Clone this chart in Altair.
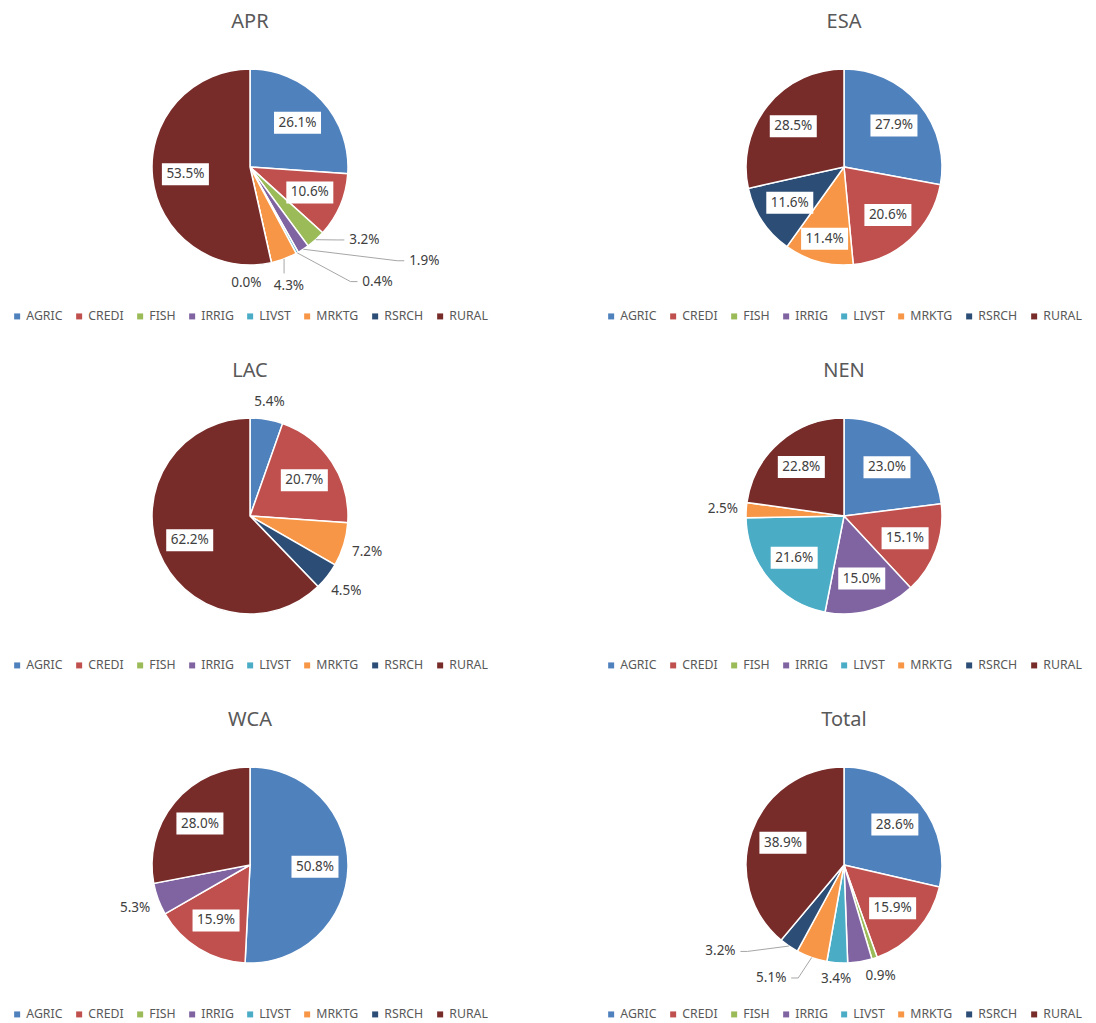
import math
import altair as alt
import pandas as pd

# ---------------- data ----------------
CATEGORIES = ["AGRIC", "CREDI", "FISH", "IRRIG", "LIVST", "MRKTG", "RSRCH", "RURAL"]
COLORS = ["#4F81BD", "#C0504D", "#9BBB59", "#8064A2", "#4BACC6", "#F79646", "#2C4D75", "#772C2A"]
REGIONS = ["APR", "ESA", "LAC", "NEN", "WCA", "Total"]

APR = [26.1, 10.6, 3.2, 1.9, 0.4, 4.3, 0.0, 53.5]
ESA = [27.9, 20.6, None, None, None, 11.4, 11.6, 28.5]
LAC = [5.4, 20.7, None, None, None, 7.2, 4.5, 62.2]
NEN = [23.0, 15.1, None, 15.0, 21.6, 2.5, None, 22.8]
WCA = [50.8, 15.9, None, 5.3, None, None, None, 28.0]
TOTAL = [28.6, 15.9, 0.9, 4.0, 3.4, 5.1, 3.2, 38.9]
SHARES = dict(zip(REGIONS, [APR, ESA, LAC, NEN, WCA, TOTAL]))

# labels Excel hid, and outside labels that Excel's "best fit" moved (nudge in px, leader line?)
HIDDEN_LABELS = {("Total", "IRRIG")}
LABEL_NUDGE = {
    ("APR", "FISH"): (33, -17, True),
    ("APR", "IRRIG"): (109, -7, True),
    ("APR", "LIVST"): (70, 10, True),
    ("APR", "MRKTG"): (-2, 9, True),
    ("APR", "RSRCH"): (-29, 3, False),
    ("Total", "MRKTG"): (-34, 2, True),
    ("Total", "RSRCH"): (-56, -13, True),
}

# ---------------- layout / style ----------------
PW, PH = 478, 254
R = 98          # pie radius
R_IN = 65       # radius of inside labels
GAP = 8         # gap between pie edge and outside labels
HW, HH = 15, 7  # half size of an outside label
BOX_W, BOX_H = 47, 22
FONT = "Noto Sans"
LABEL_COLOR = "#404040"
TEXT_COLOR = "#595959"

xs = alt.Scale(domain=[-PW / 2, PW / 2], nice=False, zero=False)
ys = alt.Scale(domain=[-PH / 2, PH / 2], nice=False, zero=False)


def build_tables(region):
    vals = SHARES[region]
    arcs, labels, leaders = [], [], []
    cum = 0.0
    for i, (cat, v) in enumerate(zip(CATEGORIES, vals)):
        if v is None:
            continue
        arcs.append({"category": cat, "idx": i, "value": v})
        sweep = v / 100 * 2 * math.pi
        mid = cum / 100 * 2 * math.pi + sweep / 2
        cum += v
        if (region, cat) in HIDDEN_LABELS:
            continue
        s, c = math.sin(mid), math.cos(mid)
        text = f"{v:.1f}%"
        if v >= 10:
            # push the boxed label outward until it fits across the wedge
            span = abs(c) * BOX_W + abs(s) * BOX_H
            r_in = max(R_IN, span / sweep + 3)
            lx, ly = r_in * s, r_in * c
            labels.append({"category": cat, "label": text, "x": lx, "y": ly, "inside": True,
                           "bx0": lx - BOX_W / 2, "bx1": lx + BOX_W / 2,
                           "by0": ly - BOX_H / 2, "by1": ly + BOX_H / 2})
        else:
            ro = R + GAP + abs(s) * HW + abs(c) * HH
            lx, ly = ro * s, ro * c
            nud = LABEL_NUDGE.get((region, cat))
            if nud:
                lx += nud[0]
                ly -= nud[1]
            labels.append({"category": cat, "label": text, "x": lx, "y": ly, "inside": False,
                           "bx0": None, "bx1": None, "by0": None, "by1": None})
            if nud and nud[2]:
                p0 = (R * s, R * c)
                if p0[0] < lx - HW:
                    p2 = (lx - HW - 5, ly)
                    p1 = (p2[0] - 7, ly)
                elif p0[0] > lx + HW:
                    p2 = (lx + HW + 5, ly)
                    p1 = (p2[0] + 7, ly)
                else:
                    p2 = (p0[0], ly + HH + 6)
                    p1 = p2
                for k, p in enumerate([p0, p1, p2]):
                    leaders.append({"category": cat, "pt": k, "x": p[0], "y": p[1]})
    return pd.DataFrame(arcs), pd.DataFrame(labels), pd.DataFrame(leaders)


def panel(region):
    arc_df, lab_df, lead_df = build_tables(region)
    legend = alt.Legend(orient="none", legendX=0, legendY=270, direction="horizontal",
                        columns=8, title=None, symbolType="square", symbolSize=36,
                        symbolStrokeWidth=0, labelFont=FONT, labelFontSize=12.3,
                        labelColor=TEXT_COLOR, columnPadding=10, labelOffset=3)
    arcs = alt.Chart(arc_df).mark_arc(outerRadius=R, stroke="white", strokeWidth=1.5).encode(
        theta=alt.Theta("value:Q", stack=True),
        color=alt.Color("category:N", scale=alt.Scale(domain=CATEGORIES, range=COLORS),
                        sort=CATEGORIES, legend=legend),
        order=alt.Order("idx:Q"),
    )
    layers = [arcs]
    if len(lead_df):
        layers.append(alt.Chart(lead_df).mark_line(color="#A6A6A6", strokeWidth=1).encode(
            x=alt.X("x:Q", scale=xs, axis=None),
            y=alt.Y("y:Q", scale=ys, axis=None),
            detail="category:N",
            order="pt:Q",
        ))
    inside = lab_df[lab_df["inside"]]
    if len(inside):
        layers.append(alt.Chart(inside).mark_rect(color="white").encode(
            x=alt.X("bx0:Q", scale=xs, axis=None), x2="bx1:Q",
            y=alt.Y("by0:Q", scale=ys, axis=None), y2="by1:Q",
        ))
    layers.append(alt.Chart(lab_df).mark_text(font=FONT, fontSize=13.5, color=LABEL_COLOR,
                                              align="center", baseline="middle").encode(
        x=alt.X("x:Q", scale=xs, axis=None),
        y=alt.Y("y:Q", scale=ys, axis=None),
        text="label:N",
    ))
    return alt.layer(*layers).properties(
        width=PW, height=PH,
        title=alt.TitleParams(text=region, font=FONT, fontSize=20, fontWeight="normal",
                              color=TEXT_COLOR, anchor="middle", frame="group", offset=8),
    )


chart = alt.concat(*[panel(r) for r in REGIONS], columns=2,
                   spacing={"row": 95, "column": 116}, bounds="flush").resolve_scale(
    color="independent"
).properties(
    padding={"left": 3, "top": 4, "right": 0, "bottom": 0},
).configure_view(stroke=None)

chart.save("out.html", embed_options={"renderer": "svg", "actions": False})
